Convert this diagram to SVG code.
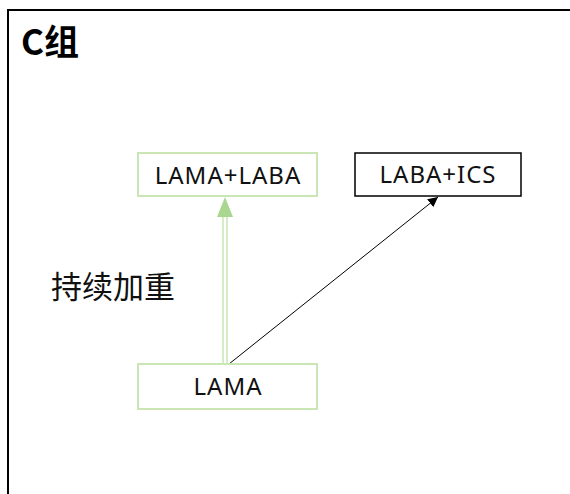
<svg xmlns="http://www.w3.org/2000/svg" width="570" height="494" viewBox="0 0 570 494">
<style>
.bg{fill:#ffffff}
.frame{fill:none;stroke:#000;stroke-width:2}
.gbox{fill:#fff;stroke:#c9e6b4;stroke-width:2}
.kbox{fill:#fff;stroke:#000;stroke-width:1.5}
.lbl{font-family:"Noto Sans","Noto Sans CJK SC",sans-serif;font-size:24px;letter-spacing:1px;fill:#111;text-anchor:middle}
.title{font-family:"Noto Sans CJK SC",sans-serif;font-size:35px;font-weight:bold;fill:#000}
.note{font-family:"Noto Sans CJK SC",sans-serif;font-size:31px;fill:#111}
</style>
<defs>
<marker id="blk" viewBox="0 0 10 10" refX="10" refY="5" markerWidth="10" markerHeight="10" markerUnits="userSpaceOnUse" orient="auto">
<path d="M0,0 L10,5 L0,10 z" fill="#000"/>
</marker>
</defs>
<rect class="bg" x="0" y="0" width="570" height="494"/>
<path class="frame" d="M8,494 V10 H570"/>
<text class="title" x="21" y="55">C组</text>
<text class="note" x="51" y="298">持续加重</text>
<g id="connectors">
<g id="green-arrow">
<line x1="223" y1="364" x2="223" y2="216" stroke="#c9e6b4" stroke-width="1.5"/>
<line x1="227" y1="364" x2="227" y2="216" stroke="#c9e6b4" stroke-width="1.5"/>
<path d="M225,197 L233,217 L217,217 z" fill="#a9d78f"/>
</g>
<line x1="229" y1="364" x2="438" y2="197" stroke="#000" stroke-width="1" marker-end="url(#blk)"/>
</g>
<g id="n-lama-laba">
<rect class="gbox" x="138" y="153" width="179" height="43"/>
<text class="lbl" x="228" y="184">LAMA+LABA</text>
</g>
<g id="n-laba-ics">
<rect class="kbox" x="355" y="153" width="166" height="43"/>
<text class="lbl" x="438" y="183">LABA+ICS</text>
</g>
<g id="n-lama">
<rect class="gbox" x="138" y="364" width="179" height="45"/>
<text class="lbl" x="228" y="395">LAMA</text>
</g>
</svg>
